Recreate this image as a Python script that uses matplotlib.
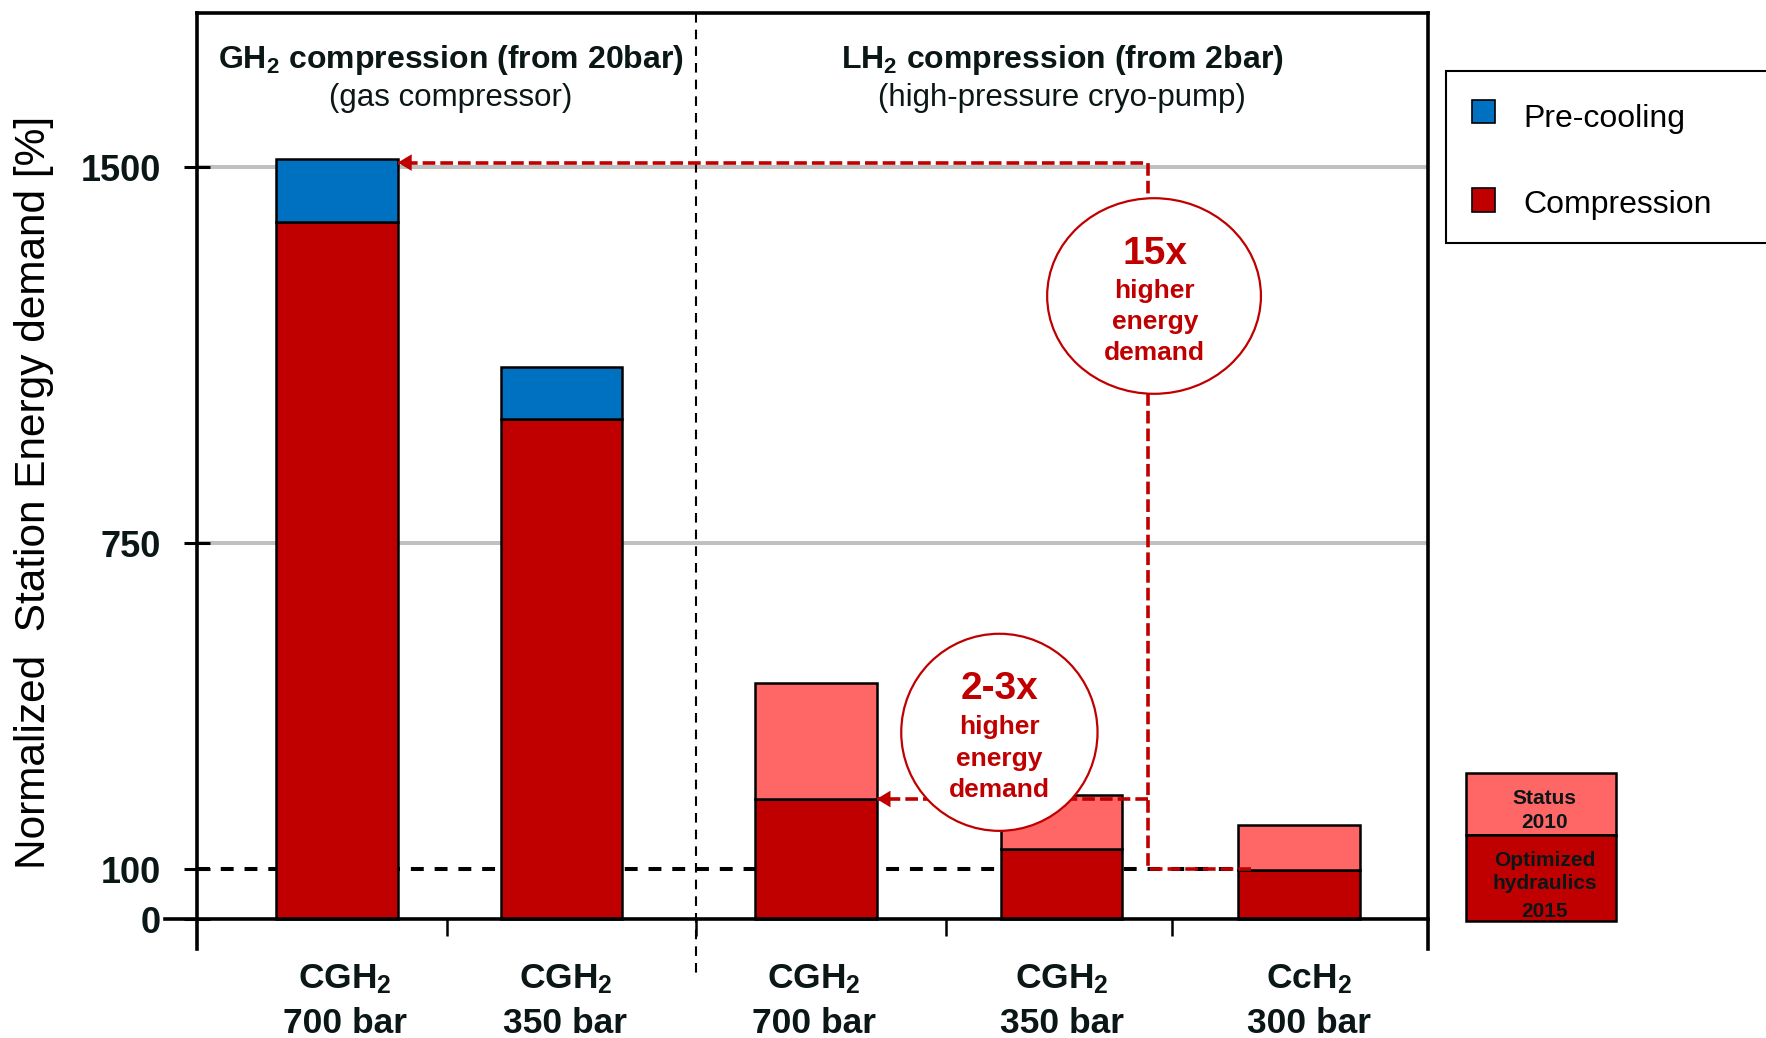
import matplotlib.pyplot as plt
from matplotlib.patches import Ellipse, Rectangle
from matplotlib.transforms import blended_transform_factory

plt.rcParams['font.family'] = ['Liberation Sans', 'DejaVu Sans']
plt.rcParams['mathtext.fontset'] = 'custom'
plt.rcParams['mathtext.rm'] = 'Liberation Sans'
plt.rcParams['mathtext.bf'] = 'Liberation Sans:bold'
plt.rcParams['mathtext.it'] = 'Liberation Sans:italic'

DARK_RED = '#C00000'
LIGHT_RED = '#FF6666'
BLUE = '#0070C0'
INK = '#0B1616'
GRID = '#C0C0C0'

# storage form and pressure of each station
fuels = [r'CGH$_\mathbf{2}$', r'CGH$_\mathbf{2}$', r'CGH$_\mathbf{2}$',
         r'CGH$_\mathbf{2}$', r'CcH$_\mathbf{2}$']
pressures = ['700 bar', '350 bar', '700 bar', '350 bar', '300 bar']

# GH2 stations (gas compressor), % of reference
gh2_compression = [1390, 998]
gh2_precooling = [127, 103]

# LH2 stations (cryo-pump), % of reference
lh2_optimized_2015 = [241, 141, 99]
lh2_status_2010 = [472, 248, 188]

yticks = [0, 100, 750, 1500]
gridlines = [750, 1500]
reference_level = 100

# layout (category units)
xpos = [0.570, 1.481, 2.514, 3.512, 4.476]
label_x = [0.603, 1.497, 2.505, 3.513, 4.517]
width = 0.493
divider_x = 2.028
bound_ticks = [1.017, 2.028, 3.043, 3.961]
arrow_x = 3.862

fig = plt.figure(figsize=(17.66, 10.38), dpi=100)
ax = fig.add_axes([0.1114, 0.0853, 0.6973, 0.9025])
ax.set_xlim(0, 5)
ax.set_ylim(-60, 1808)

# grid + 100 % reference line
ax.hlines(gridlines, 0, 5, color=GRID, lw=2.9, zorder=1)
ax.plot([0, xpos[4]], [reference_level] * 2, color='black', lw=2.9,
        ls=(0, (3.2, 2.7)), zorder=1.5)

# stacked bars
gx, lx = xpos[:2], xpos[2:]
bar_kw = dict(width=width, edgecolor='black', linewidth=1.8, zorder=2)
ax.bar(gx, gh2_compression, color=DARK_RED, **bar_kw)
ax.bar(gx, gh2_precooling, bottom=gh2_compression, color=BLUE, **bar_kw)
ax.bar(lx, lh2_optimized_2015, color=DARK_RED, **bar_kw)
ax.bar(lx, [s - o for s, o in zip(lh2_status_2010, lh2_optimized_2015)],
       bottom=lh2_optimized_2015, color=LIGHT_RED, **bar_kw)

# zero line and category boundary ticks
ax.axhline(0, xmin=-0.0257, xmax=1, color='black', lw=2.6, clip_on=False, zorder=3)
ax.vlines(bound_ticks, -34, 0, color='black', lw=1.8, zorder=3)

# GH2 / LH2 divider
ax.plot([divider_x, divider_x], [1808, -111], color='black', lw=1.5,
        ls=(0, (4.6, 3.4)), clip_on=False, zorder=2.5)

# red comparison arrows
red_ls = (0, (3.5, 1.4))
top_y = 1509
ax.plot([4.28, arrow_x, arrow_x, xpos[0] + width / 2],
        [reference_level, reference_level, top_y, top_y],
        color=DARK_RED, lw=2.6, ls=red_ls, zorder=4)
ax.plot([arrow_x, xpos[2] + width / 2], [240, 240],
        color=DARK_RED, lw=2.6, ls=red_ls, zorder=4)


def arrow_head(x, y):
    ax.annotate('', xy=(x, y), xytext=(x + 0.12, y),
                arrowprops=dict(arrowstyle='-|>,head_length=0.5,head_width=0.3',
                                mutation_scale=20, color=DARK_RED, lw=0,
                                shrinkA=0, shrinkB=0), zorder=4)


arrow_head(xpos[0] + width / 2, top_y)
arrow_head(xpos[2] + width / 2, 240)

# bubbles
ax.add_patch(Ellipse((3.887, 1243), 0.868, 390, facecolor='white',
                     edgecolor=DARK_RED, lw=1.6, zorder=5))
ax.add_patch(Ellipse((3.259, 373), 0.797, 393, facecolor='white',
                     edgecolor=DARK_RED, lw=1.6, zorder=5))


def bubble_text(x, rows):
    for txt, y, size in rows:
        ax.text(x, y, txt, ha='center', va='baseline', color=DARK_RED,
                fontsize=size, fontweight='bold', zorder=6)


bubble_text(3.890, [('15x', 1307, 28), ('higher', 1239, 19),
                    ('energy', 1177, 19), ('demand', 1115, 19)])
bubble_text(3.258, [('2-3x', 440, 28), ('higher', 370, 19),
                    ('energy', 306, 19), ('demand', 245, 19)])

# section headers
mix = blended_transform_factory(ax.transData, ax.transAxes)
ax.text(1.032, 0.9407, r'GH$_\mathbf{2}$ compression (from 20bar)', transform=mix,
        ha='center', va='baseline', fontsize=23, fontweight='bold', color=INK)
ax.text(1.032, 0.9004, '(gas compressor)', transform=mix,
        ha='center', va='baseline', fontsize=22.5, color=INK)
ax.text(3.513, 0.9407, r'LH$_\mathbf{2}$ compression (from 2bar)', transform=mix,
        ha='center', va='baseline', fontsize=23, fontweight='bold', color=INK)
ax.text(3.513, 0.9004, '(high-pressure cryo-pump)', transform=mix,
        ha='center', va='baseline', fontsize=22.5, color=INK)

# category labels
for x, f, p in zip(label_x, fuels, pressures):
    ax.text(x, -0.0414, f, transform=mix, ha='center', va='baseline',
            fontsize=25.5, fontweight='bold', color=INK)
    ax.text(x, -0.0891, p, transform=mix, ha='center', va='baseline',
            fontsize=25.5, fontweight='bold', color=INK)

# axes styling
ax.set_yticks(yticks)
ax.set_yticklabels([str(v) for v in yticks], fontsize=26, fontweight='bold', color=INK)
ax.tick_params(axis='y', direction='inout', length=19.4, width=2.2, pad=16.2)
ax.tick_params(axis='x', bottom=False, labelbottom=False)
ax.spines['bottom'].set_visible(False)
for side in ['left', 'right', 'top']:
    ax.spines[side].set_linewidth(2.6)

fig.text(0.0191, 0.5254, 'Normalized  Station Energy demand [%]', rotation=90,
         ha='center', va='center', fontsize=30.5, color='black')

# legend, top right
fig.add_artist(Rectangle((0.8188, 0.7656), 0.25, 0.1663, transform=fig.transFigure,
                         facecolor='white', edgecolor='black', lw=1.5))
fig.add_artist(Rectangle((0.8334, 0.8812), 0.0132, 0.02245, transform=fig.transFigure,
                         facecolor=BLUE, edgecolor='black', lw=1.2))
fig.add_artist(Rectangle((0.8334, 0.7955), 0.0132, 0.0231, transform=fig.transFigure,
                         facecolor=DARK_RED, edgecolor='black', lw=1.2))
fig.text(0.8626, 0.8779, 'Pre-cooling', fontsize=23, va='baseline', color='black')
fig.text(0.8626, 0.7945, 'Compression', fontsize=23, va='baseline', color='black')

# key for the LH2 bars, bottom right
fig.add_artist(Rectangle((0.8300, 0.1956), 0.0851, 0.0600, transform=fig.transFigure,
                         facecolor=LIGHT_RED, edgecolor='black', lw=1.8))
fig.add_artist(Rectangle((0.8300, 0.1127), 0.0851, 0.0829, transform=fig.transFigure,
                         facecolor=DARK_RED, edgecolor='black', lw=1.8))
for txt, y in [('Status', 0.2251), ('2010', 0.2020), ('Optimized', 0.1657),
               ('hydraulics', 0.1433), ('2015', 0.1169)]:
    fig.text(0.8746, y, txt, ha='center', va='baseline', fontsize=15,
             fontweight='bold', color=INK)

fig.savefig('out.png', dpi=100)
